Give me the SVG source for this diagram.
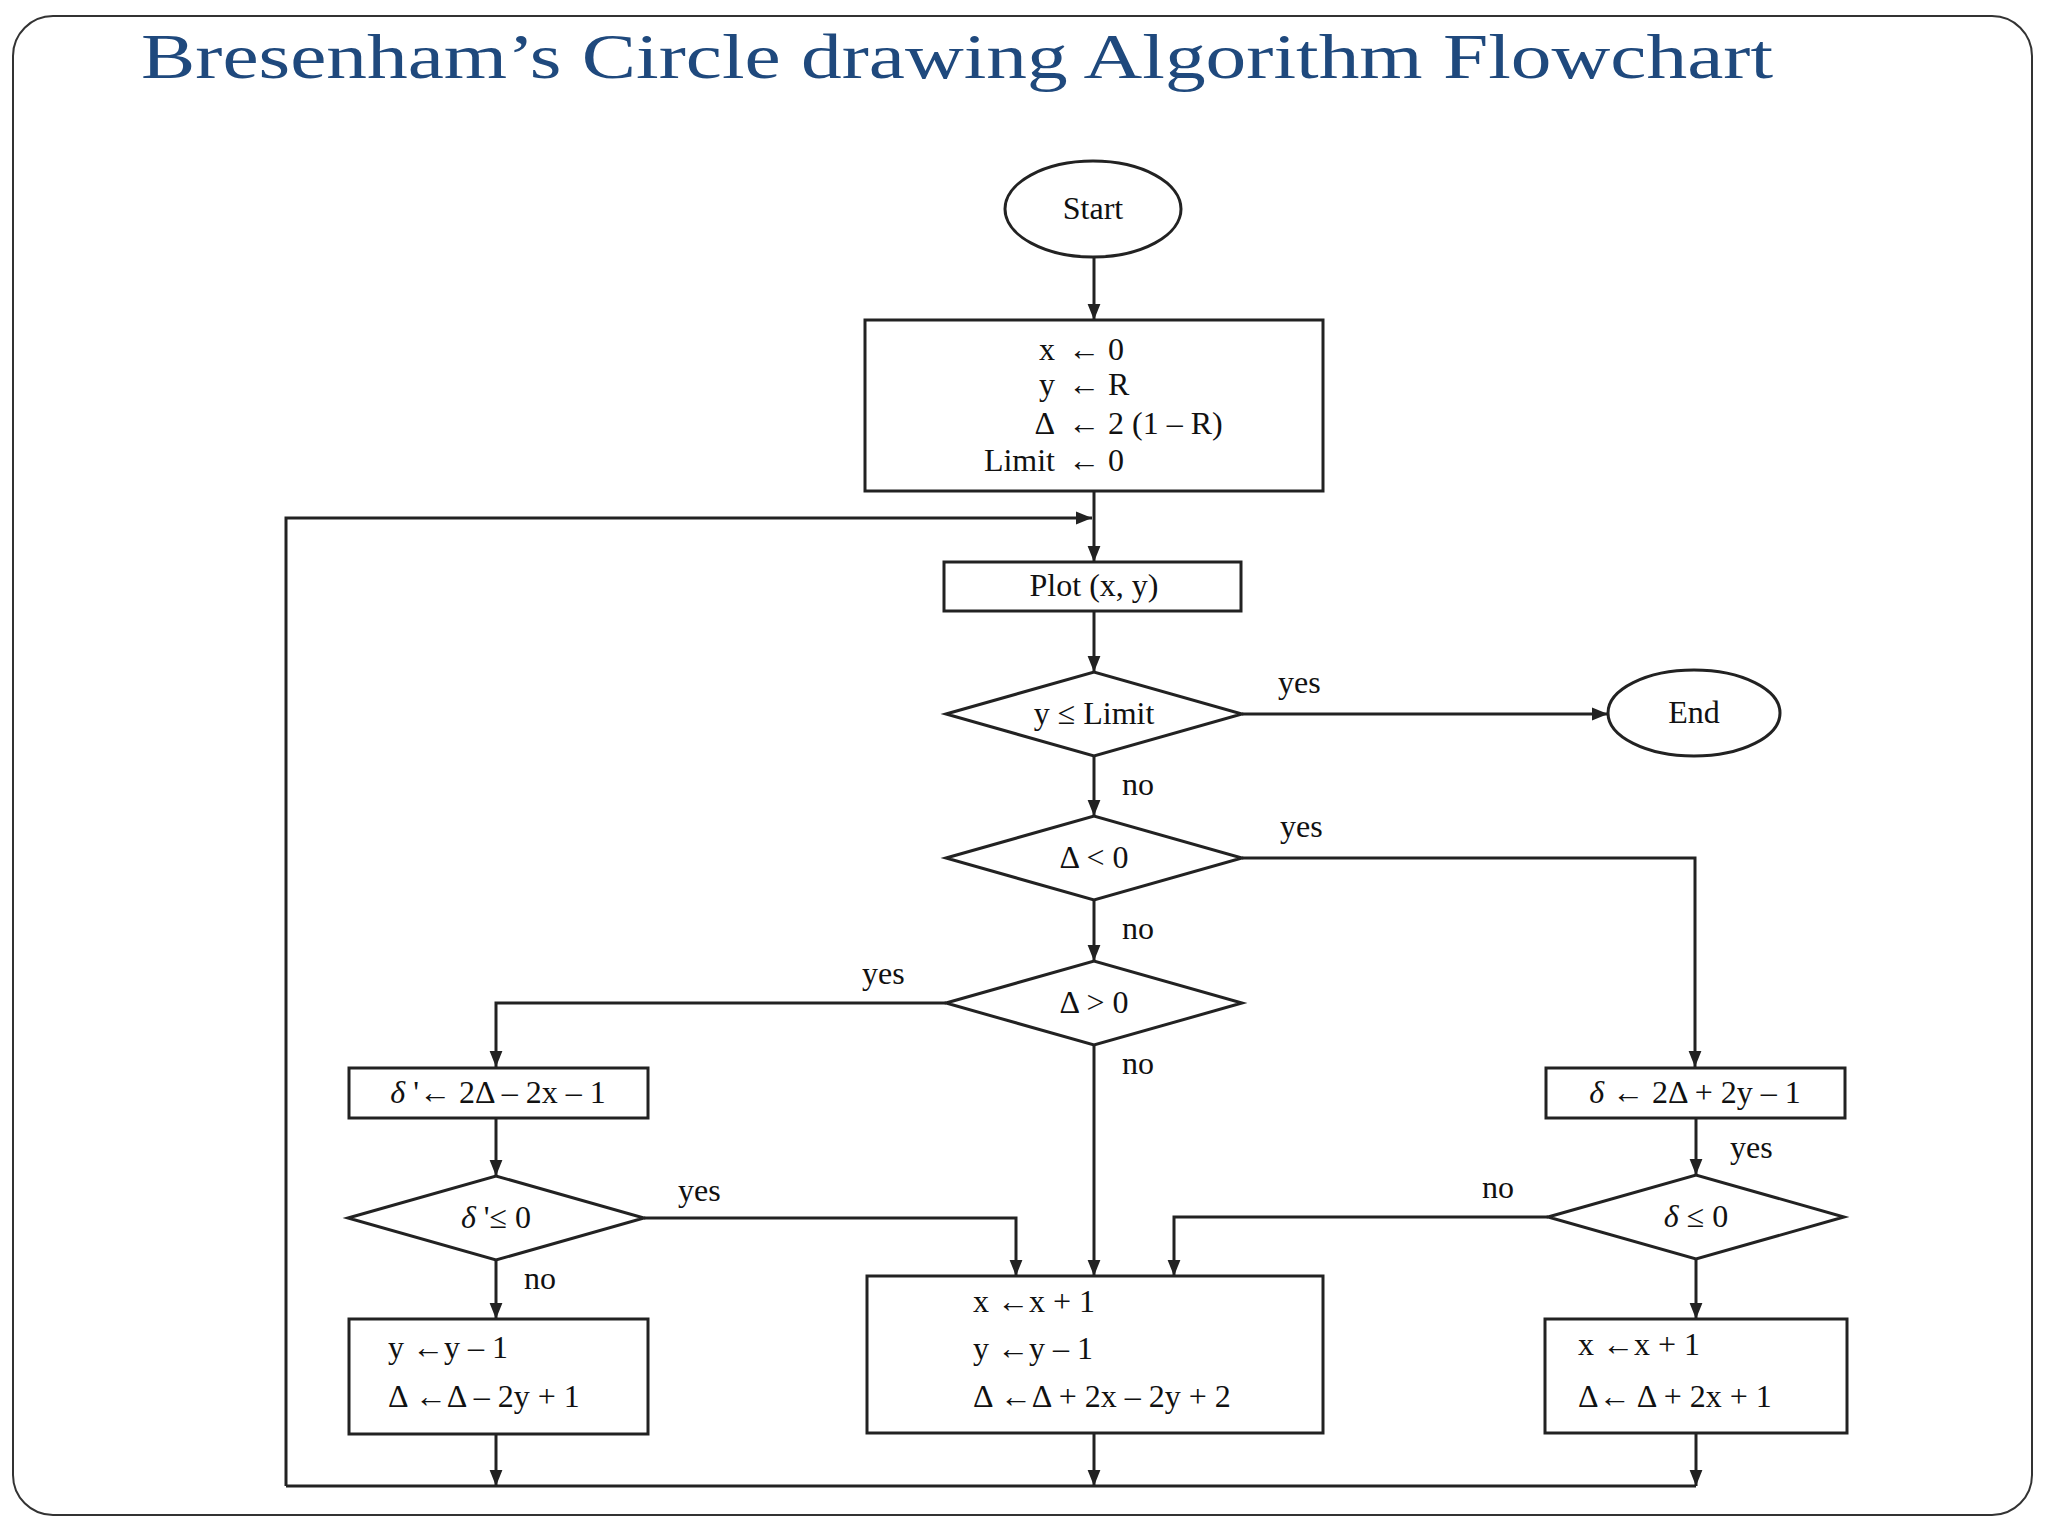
<svg xmlns="http://www.w3.org/2000/svg" width="2048" height="1536" viewBox="0 0 2048 1536">
<style>
.s{fill:none;stroke:#222;stroke-width:3}
.b{fill:#fff;stroke:#222;stroke-width:3}
text{font-family:"Liberation Serif","Times New Roman",serif;font-size:32px;fill:#111}
.c{text-anchor:middle}
.r{text-anchor:end}
</style>
<defs>
<marker id="A" viewBox="0 0 10 10" refX="10" refY="5" markerWidth="18" markerHeight="16" orient="auto" markerUnits="userSpaceOnUse"><path d="M0,1L10,5L0,9z" fill="#222"/></marker></defs>
<rect x="13" y="16" width="2019" height="1499" rx="40" fill="#fff" stroke="#333" stroke-width="2"/>
<text x="141" y="78" textLength="1632" lengthAdjust="spacingAndGlyphs" style="font-size:64px;fill:#1f497d">Bresenham’s Circle drawing Algorithm Flowchart</text>
<g id="connectors" class="s" marker-end="url(#A)">
<path d="M1094,257V320"/>
<path d="M1094,491V562"/>
<path d="M286,1486V518H1092" />
<path d="M1094,611V672"/>
<path d="M1242,714H1608"/>
<path d="M1094,756V816"/>
<path d="M1242,858H1695V1067"/>
<path d="M1094,900V961"/>
<path d="M946,1003H496V1067"/>
<path d="M1094,1045V1276"/>
<path d="M496,1118V1176"/>
<path d="M1696,1118V1175"/>
<path d="M644,1218H1016V1276"/>
<path d="M1548,1217H1174V1276"/>
<path d="M496,1260V1319"/>
<path d="M1696,1259V1319"/>
<path d="M496,1434V1486"/>
<path d="M1094,1433V1486"/>
<path d="M1696,1433V1486"/>
<path d="M286,1486H1696" marker-end="none"/>
</g>
<g id="start"><ellipse class="b" cx="1093" cy="209" rx="88" ry="48"/><text class="c" x="1093" y="219">Start</text></g>
<g id="init"><rect class="b" x="865" y="320" width="458" height="171"/>
<text class="r" x="1055" y="360">x</text><text x="1068" y="360">← 0</text>
<text class="r" x="1055" y="395">y</text><text x="1068" y="395">← R</text>
<text class="r" x="1055" y="434">Δ</text><text x="1068" y="434">← 2 (1 – R)</text>
<text class="r" x="1055" y="471">Limit</text><text x="1068" y="471">← 0</text></g>
<g id="plot"><rect class="b" x="944" y="562" width="297" height="49"/><text class="c" x="1094" y="596">Plot (x, y)</text></g>
<g id="d1"><polygon class="b" points="946,714 1094,672 1242,714 1094,756"/><text class="c" x="1094" y="724">y ≤ Limit</text></g>
<g id="end"><ellipse class="b" cx="1694" cy="713" rx="86" ry="43"/><text class="c" x="1694" y="723">End</text></g>
<g id="d2"><polygon class="b" points="946,858 1094,816 1242,858 1094,900"/><text class="c" x="1094" y="868">Δ &lt; 0</text></g>
<g id="d3"><polygon class="b" points="946,1003 1094,961 1242,1003 1094,1045"/><text class="c" x="1094" y="1013">Δ &gt; 0</text></g>
<g id="bl"><rect class="b" x="349" y="1068" width="299" height="50"/><text class="c" x="498" y="1103"><tspan font-style="italic">δ</tspan> '← 2Δ – 2x – 1</text></g>
<g id="br"><rect class="b" x="1546" y="1068" width="299" height="50"/><text class="c" x="1695" y="1103"><tspan font-style="italic">δ</tspan> ← 2Δ + 2y – 1</text></g>
<g id="dl"><polygon class="b" points="348,1218 496,1176 644,1218 496,1260"/><text class="c" x="496" y="1228"><tspan font-style="italic">δ</tspan> '≤ 0</text></g>
<g id="dr"><polygon class="b" points="1548,1217 1696,1175 1844,1217 1696,1259"/><text class="c" x="1696" y="1227"><tspan font-style="italic">δ</tspan> ≤ 0</text></g>
<g id="bc"><rect class="b" x="867" y="1276" width="456" height="157"/>
<text x="973" y="1312">x ←x + 1</text><text x="973" y="1359">y ←y – 1</text><text x="973" y="1407">Δ ←Δ + 2x – 2y + 2</text></g>
<g id="blb"><rect class="b" x="349" y="1319" width="299" height="115"/>
<text x="388" y="1358">y ←y – 1</text><text x="388" y="1407">Δ ←Δ – 2y + 1</text></g>
<g id="brb"><rect class="b" x="1545" y="1319" width="302" height="114"/>
<text x="1578" y="1355">x ←x + 1</text><text x="1578" y="1407">Δ← Δ + 2x + 1</text></g>
<g id="labels">
<text x="1278" y="693">yes</text><text x="1122" y="795">no</text>
<text x="1280" y="837">yes</text><text x="1122" y="939">no</text>
<text x="862" y="984">yes</text><text x="1122" y="1074">no</text>
<text x="1730" y="1158">yes</text><text x="678" y="1201">yes</text>
<text x="1482" y="1198">no</text><text x="524" y="1289">no</text>
</g>
</svg>
